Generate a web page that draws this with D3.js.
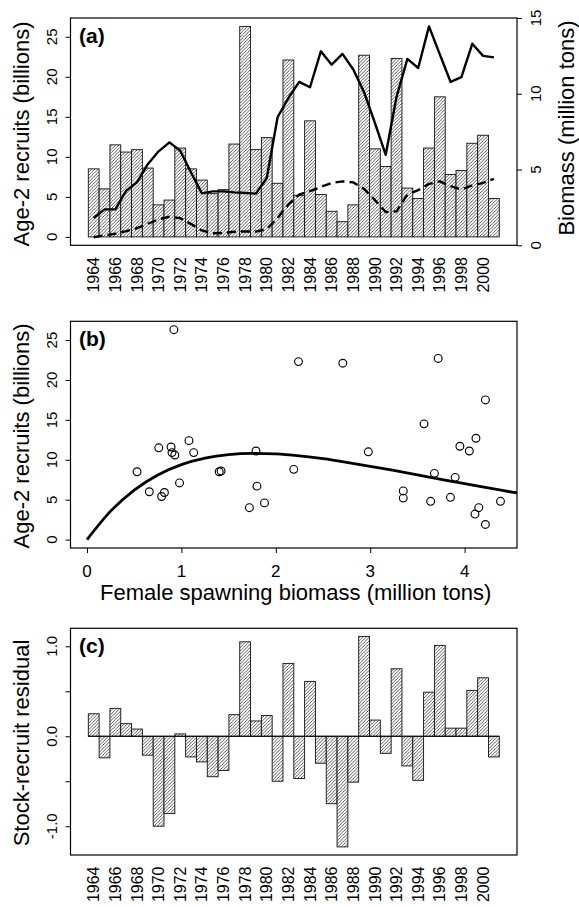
<!DOCTYPE html>
<html>
<head>
<meta charset="utf-8">
<script src="https://cdnjs.cloudflare.com/ajax/libs/d3/7.8.5/d3.min.js"></script>
<style>
  body { margin: 0; background: #fff; }
  svg { display: block; font-family: "Liberation Sans", Arial, Helvetica, sans-serif; }
</style>
</head>
<body>
<svg width="579" height="907"></svg>
<script>

// years of the series
var years = [1964, 1965, 1966, 1967, 1968, 1969, 1970, 1971, 1972, 1973,
             1974, 1975, 1976, 1977, 1978, 1979, 1980, 1981, 1982, 1983,
             1984, 1985, 1986, 1987, 1988, 1989, 1990, 1991, 1992, 1993,
             1994, 1995, 1996, 1997, 1998, 1999, 2000, 2001];

// age-2 recruits (billions), bars in (a) and y of the points in (b)
var recruits = [8.5, 6.0, 11.5, 10.6, 10.9, 8.6, 4.0, 4.6, 11.1, 8.5,
                7.1, 5.4, 5.9, 11.6, 26.3, 10.9, 12.4, 6.7, 22.1, 5.2,
                14.5, 5.3, 3.2, 1.9, 4.0, 22.7, 11.0, 8.8, 22.3, 6.1,
                4.8, 11.1, 17.5, 7.8, 8.3, 11.7, 12.7, 4.8];

// total biomass (million tons), solid line in (a)
var totalBiomass = [1.8, 2.37, 2.37, 3.6, 4.15, 5.35, 6.2, 6.79, 6.24, 4.8,
                    3.43, 3.56, 3.56, 3.49, 3.45, 3.41, 4.44, 8.45, 9.72, 10.78,
                    10.43, 12.8, 11.92, 12.63, 11.6, 10.1, 8.07, 5.97, 9.8, 12.3,
                    11.7, 14.45, 12.6, 10.78, 11.1, 13.3, 12.5, 12.4];

// female spawning biomass (million tons), dashed line in (a) and x in (b)
var spawningBiomass = [0.53, 0.66, 0.76, 0.93, 1.13, 1.42, 1.72, 1.88, 1.79, 1.40,
                       0.98, 0.79, 0.82, 0.89, 0.92, 0.90, 1.08, 1.80, 2.71, 3.35,
                       3.57, 3.85, 4.11, 4.22, 4.15, 3.72, 2.98, 2.19, 2.24, 3.35,
                       3.64, 4.05, 4.22, 3.90, 3.68, 3.95, 4.12, 4.38];

// stock-recruit residuals, bars in (c)
var residuals = [0.25, -0.24, 0.31, 0.14, 0.08, -0.21, -1.0, -0.86, 0.026, -0.23,
                 -0.285, -0.45, -0.38, 0.24, 1.05, 0.17, 0.23, -0.50, 0.81, -0.47,
                 0.61, -0.30, -0.75, -1.23, -0.51, 1.11, 0.18, -0.19, 0.75, -0.33,
                 -0.49, 0.49, 1.01, 0.09, 0.09, 0.51, 0.65, -0.23];

// fitted stock-recruit curve in (b)
var curveS = [0, 0.25, 0.5, 0.75, 1.0, 1.25, 1.5, 1.75, 2.0, 2.25, 2.5,
              2.75, 3.0, 3.25, 3.5, 3.75, 4.0, 4.25, 4.5, 4.555];
var curveR = [0, 3.57, 6.21, 8.10, 9.39, 10.2, 10.65, 10.8, 10.73, 10.49, 10.14,
              9.69, 9.19, 8.66, 8.11, 7.55, 7.0, 6.47, 5.95, 5.85];

// tick labels
var yearLabels = [1964, 1966, 1968, 1970, 1972, 1974, 1976, 1978, 1980, 1982,
                  1984, 1986, 1988, 1990, 1992, 1994, 1996, 1998, 2000];
var recruitTicks = [0, 5, 10, 15, 20, 25];
var biomassTicks = [0, 5, 10, 15];
var ssbTicks = [0, 1, 2, 3, 4];
var residTicks = [-1, -0.5, 0, 0.5, 1];
var residLabels = ["-1.0", "0.0", "1.0"];


var svg = d3.select("svg");
var left = 70.5, right = 517;

// hatch fill for bars
var pat = svg.append("defs").append("pattern")
  .attr("id", "hatch")
  .attr("patternUnits", "userSpaceOnUse")
  .attr("width", 3.3).attr("height", 3.3);
pat.append("rect").attr("width", 3.3).attr("height", 3.3).attr("fill", "#fff");
pat.append("path")
  .attr("d", "M-0.8,0.8L0.8,-0.8M0,3.3L3.3,0M2.5,4.1L4.1,2.5")
  .attr("stroke", "#333").attr("stroke-width", 0.8);

function vtext(x, y, str, size, anchor) {
  return svg.append("text")
    .attr("transform", "translate(" + x + "," + y + ") rotate(-90)")
    .attr("text-anchor", anchor || "middle")
    .style("font-size", size + "px")
    .text(str);
}

function box(top, bottom) {
  svg.append("rect")
    .attr("x", left).attr("y", top)
    .attr("width", right - left).attr("height", bottom - top)
    .attr("fill", "none").attr("stroke", "#000").attr("stroke-width", 1.2);
}

function ticksLeft(scale, values) {
  svg.append("g")
    .attr("transform", "translate(" + left + ",0)")
    .call(d3.axisLeft(scale).tickValues(values).tickSize(5).tickFormat(""))
    .call(function (g) { g.select(".domain").remove(); });
}

var xb = d3.scaleBand().domain(years).range([88.3, 499.3]).padding(0);
var bw = xb.bandwidth();


// ---------- (a) ----------
var aTop = 18, aBot = 245.3;
var yA = d3.scaleLinear().domain([-1.05, 27.35]).range([aBot, aTop]);
var yBio = d3.scaleLinear().domain([0, 15]).range([aBot, aTop]);

svg.append("g").selectAll("rect")
  .data(recruits)
  .enter().append("rect")
  .attr("x", function (d, i) { return xb(years[i]); })
  .attr("y", function (d) { return yA(d); })
  .attr("width", bw)
  .attr("height", function (d) { return yA(0) - yA(d); })
  .attr("fill", "url(#hatch)")
  .attr("stroke", "#111")
  .attr("stroke-width", 0.9);

var lineA = d3.line()
  .x(function (d, i) { return xb(years[i]) + bw / 2; })
  .y(function (d) { return yBio(d); });

svg.append("path").datum(totalBiomass)
  .attr("d", lineA)
  .attr("fill", "none").attr("stroke", "#000").attr("stroke-width", 2.4)
  .attr("stroke-linejoin", "round");

svg.append("path").datum(spawningBiomass)
  .attr("d", lineA)
  .attr("fill", "none").attr("stroke", "#000").attr("stroke-width", 2.4)
  .attr("stroke-dasharray", "9,5");

box(aTop, aBot);
ticksLeft(yA, recruitTicks);
recruitTicks.forEach(function (t) { vtext(57, yA(t), t, 15); });

svg.append("g")
  .attr("transform", "translate(" + right + ",0)")
  .call(d3.axisRight(yBio).tickValues(biomassTicks).tickSize(5).tickFormat(""))
  .call(function (g) { g.select(".domain").remove(); });
biomassTicks.forEach(function (t) { vtext(540.5, yBio(t), t, 15); });

vtext(29, 134, "Age-2 recruits (billions)", 22);
vtext(574, 128, "Biomass (million tons)", 22);

yearLabels.forEach(function (y) {
  vtext(xb(y) + bw / 2, 257, y, 16, "end").attr("dy", "0.35em");
});

svg.append("text").attr("x", 79).attr("y", aTop + 25)
  .style("font-size", "21px").style("font-weight", "bold").text("(a)");


// ---------- (b) ----------
var bTop = 321.3, bBot = 548;
var xS = d3.scaleLinear().domain([-0.175, 4.555]).range([left, right]);
var yR = d3.scaleLinear().domain([-1.05, 27.35]).range([bBot, bTop]);

var curve = d3.line()
  .x(function (d) { return xS(d); })
  .y(function (d, i) { return yR(curveR[i]); })
  .curve(d3.curveMonotoneX);

svg.append("path").datum(curveS)
  .attr("d", curve)
  .attr("fill", "none").attr("stroke", "#000").attr("stroke-width", 2.8);

svg.append("g").selectAll("circle")
  .data(spawningBiomass)
  .enter().append("circle")
  .attr("cx", function (d) { return xS(d); })
  .attr("cy", function (d, i) { return yR(recruits[i]); })
  .attr("r", 3.9)
  .attr("fill", "none").attr("stroke", "#000").attr("stroke-width", 1.15);

box(bTop, bBot);
ticksLeft(yR, recruitTicks);
recruitTicks.forEach(function (t) { vtext(57, yR(t), t, 15); });

svg.append("g")
  .attr("transform", "translate(0," + bBot + ")")
  .call(d3.axisBottom(xS).tickValues(ssbTicks).tickSize(5).tickFormat(""))
  .call(function (g) { g.select(".domain").remove(); });
ssbTicks.forEach(function (t) {
  svg.append("text").attr("x", xS(t)).attr("y", 577)
    .attr("text-anchor", "middle").style("font-size", "17px").text(t);
});

vtext(29, 436, "Age-2 recruits (billions)", 22);
svg.append("text").attr("x", (left + right) / 2 + 2).attr("y", 600)
  .attr("text-anchor", "middle").style("font-size", "22px")
  .text("Female spawning biomass (million tons)");

svg.append("text").attr("x", 79).attr("y", bTop + 25)
  .style("font-size", "21px").style("font-weight", "bold").text("(b)");


// ---------- (c) ----------
var cTop = 628.3, cBot = 855;
var yC = d3.scaleLinear().domain([-1.32, 1.2]).range([cBot, cTop]);

svg.append("g").selectAll("rect")
  .data(residuals)
  .enter().append("rect")
  .attr("x", function (d, i) { return xb(years[i]); })
  .attr("y", function (d) { return yC(Math.max(d, 0)); })
  .attr("width", bw)
  .attr("height", function (d) { return Math.abs(yC(0) - yC(d)); })
  .attr("fill", "url(#hatch)")
  .attr("stroke", "#111")
  .attr("stroke-width", 0.9);

svg.append("line")
  .attr("x1", xb(years[0])).attr("x2", xb(years[years.length - 1]) + bw)
  .attr("y1", yC(0)).attr("y2", yC(0))
  .attr("stroke", "#000").attr("stroke-width", 1.1);

box(cTop, cBot);
ticksLeft(yC, residTicks);
residLabels.forEach(function (t) { vtext(57, yC(+t), t, 15); });

vtext(29, 743, "Stock-recruit residual", 22);

yearLabels.forEach(function (y) {
  vtext(xb(y) + bw / 2, 866.5, y, 16, "end").attr("dy", "0.35em");
});

svg.append("text").attr("x", 79).attr("y", cTop + 25)
  .style("font-size", "21px").style("font-weight", "bold").text("(c)");

</script>
</body>
</html>
